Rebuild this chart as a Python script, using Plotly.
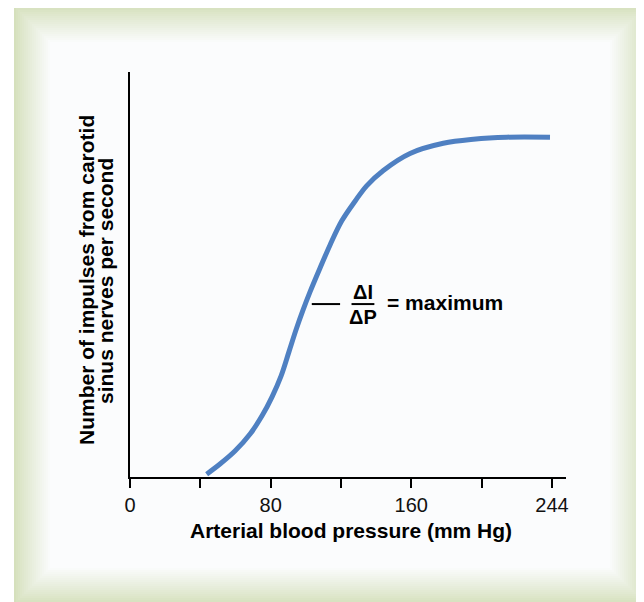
import plotly.graph_objects as go

# ---- data ----
pressure = [43.6, 51.2, 59.7, 68.3, 75.1, 80.8, 85.9, 90.4, 94.4, 98.4, 102.4, 108.1,
            113.8, 120.4, 128.0, 134.6, 144.1, 159.3, 178.2, 195.3, 214.3, 238.9]
impulses = [0.7, 3.2, 6.4, 10.6, 15.1, 19.8, 24.9, 30.9, 36.3, 41.2, 45.7, 51.6,
            57.3, 63.2, 68.1, 71.9, 75.7, 79.9, 82.4, 83.4, 83.9, 83.9]

x_tickvals = [0, 40, 80, 120, 160, 200, 240]
x_ticktext = ["0", "", "80", "", "160", "", "244"]

x_title = "Arterial blood pressure (mm Hg)"
y_title_lines = ["Number of impulses from carotid", "sinus nerves per second"]

FONT = "Liberation Sans, Arial, Helvetica, sans-serif"

# the figure sits 8px inside the page (default body margin)
OFF = 8
W, H = 644 - OFF, 602 - OFF
PL, PT = 130, 72            # plot area left / top in page pixels
PW, PH = 436, 405           # plot area size
ML, MT = PL - OFF, PT - OFF
MR = W - ML - PW
MB = H - MT - PH


def px2paper_x(px):
    return (px - PL) / PW


def px2paper_y(py):
    return (PT + PH - py) / PH


fig = go.Figure()
fig.add_trace(go.Scatter(
    x=pressure, y=impulses, mode="lines",
    line=dict(color="#4f80c2", width=5, shape="spline", smoothing=1.0),
    hoverinfo="skip", showlegend=False,
))

# ---- decorative bevelled frame ----
shapes = []
outer = (14, 6, 646, 604)
bevel = 36
steps = 18
c0 = (213, 224, 188)
c1 = (251, 252, 253)
for i in range(steps + 1):
    t = i / steps
    t2 = t ** 0.9
    col = tuple(round(c0[k] + (c1[k] - c0[k]) * t2) for k in range(3))
    inset = bevel * t
    shapes.append(dict(
        type="rect", xref="paper", yref="paper", layer="below",
        x0=px2paper_x(outer[0] + inset), x1=px2paper_x(outer[2] - inset),
        y0=px2paper_y(outer[1] + inset), y1=px2paper_y(outer[3] - inset),
        fillcolor="rgb(%d,%d,%d)" % col, line=dict(width=0),
    ))

# ---- annotation line and fraction bar ----
shapes.append(dict(type="line", xref="x", yref="y", x0=103.4, x1=119.5, y0=42.7, y1=42.7,
                   line=dict(color="black", width=2)))
shapes.append(dict(type="line", xref="x", yref="y", x0=126.0, x1=139.0, y0=42.7, y1=42.7,
                   line=dict(color="black", width=2)))

annotations = [
    dict(text="<b>ΔI</b>", x=132.5, y=45.8, xref="x", yref="y", showarrow=False,
         xanchor="center", yanchor="middle", font=dict(family=FONT, size=20, color="black")),
    dict(text="<b>ΔP</b>", x=132.5, y=39.4, xref="x", yref="y", showarrow=False,
         xanchor="center", yanchor="middle", font=dict(family=FONT, size=20, color="black")),
    dict(text="<b>= maximum</b>", x=145.0, y=43.0, xref="x", yref="y", showarrow=False,
         xanchor="left", yanchor="middle", font=dict(family=FONT, size=21, color="black")),
    dict(text="<b>%s</b>" % x_title, x=px2paper_x(351), y=px2paper_y(530), xref="paper", yref="paper",
         showarrow=False, xanchor="center", yanchor="middle",
         font=dict(family=FONT, size=21, color="black")),
    dict(text="<b>%s</b>" % y_title_lines[0], x=px2paper_x(86), y=px2paper_y(280),
         xref="paper", yref="paper", showarrow=False, textangle=-90,
         xanchor="center", yanchor="middle", font=dict(family=FONT, size=21, color="black")),
    dict(text="<b>%s</b>" % y_title_lines[1], x=px2paper_x(105), y=px2paper_y(281),
         xref="paper", yref="paper", showarrow=False, textangle=-90,
         xanchor="center", yanchor="middle", font=dict(family=FONT, size=21, color="black")),
]

fig.update_layout(
    width=W, height=H,
    margin=dict(l=ML, r=MR, t=MT, b=MB, pad=0),
    paper_bgcolor="white", plot_bgcolor="rgba(0,0,0,0)",
    shapes=shapes, annotations=annotations,
    font=dict(family=FONT, color="black"),
    xaxis=dict(range=[0, 248], showgrid=False, zeroline=False, showline=True,
               linecolor="black", linewidth=2, ticks="outside", ticklen=9,
               tickwidth=2, tickcolor="black", tickvals=x_tickvals,
               ticktext=x_ticktext, tickfont=dict(family=FONT, size=20, color="#111111"),
               fixedrange=True),
    yaxis=dict(range=[0, 100], showgrid=False, zeroline=False, showline=True,
               linecolor="black", linewidth=2, ticks="", showticklabels=False,
               fixedrange=True),
)

fig.write_html("out.html")
